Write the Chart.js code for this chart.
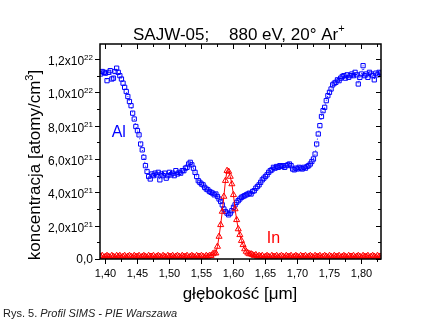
<!DOCTYPE html>
<html>
<head>
<meta charset="utf-8">
<script src="https://cdn.jsdelivr.net/npm/chart.js@4.4.1/dist/chart.umd.min.js"></script>
<style>
  html, body { margin: 0; padding: 0; background: #fff; }
  #wrap { width: 421px; height: 325px; }
</style>
</head>
<body>
<div id="wrap"><canvas id="chart" width="421" height="325"></canvas></div>
<script>
// głębokość [µm], krok 0.0025
const depth = [
  1.3925, 1.395, 1.3975, 1.400, 1.4025, 1.405, 1.4075, 1.410,
  1.4125, 1.415, 1.4175, 1.420, 1.4225, 1.425, 1.4275, 1.430,
  1.4325, 1.435, 1.4375, 1.440, 1.4425, 1.445, 1.4475, 1.450,
  1.4525, 1.455, 1.4575, 1.460, 1.4625, 1.465, 1.4675, 1.470,
  1.4725, 1.475, 1.4775, 1.480, 1.4825, 1.485, 1.4875, 1.490,
  1.4925, 1.495, 1.4975, 1.500, 1.5025, 1.505, 1.5075, 1.510,
  1.5125, 1.515, 1.5175, 1.520, 1.5225, 1.525, 1.5275, 1.530,
  1.5325, 1.535, 1.5375, 1.540, 1.5425, 1.545, 1.5475, 1.550,
  1.5525, 1.555, 1.5575, 1.560, 1.5625, 1.565, 1.5675, 1.570,
  1.5725, 1.575, 1.5775, 1.580, 1.5825, 1.585, 1.5875, 1.590,
  1.5925, 1.595, 1.5975, 1.600, 1.6025, 1.605, 1.6075, 1.610,
  1.6125, 1.615, 1.6175, 1.620, 1.6225, 1.625, 1.6275, 1.630,
  1.6325, 1.635, 1.6375, 1.640, 1.6425, 1.645, 1.6475, 1.650,
  1.6525, 1.655, 1.6575, 1.660, 1.6625, 1.665, 1.6675, 1.670,
  1.6725, 1.675, 1.6775, 1.680, 1.6825, 1.685, 1.6875, 1.690,
  1.6925, 1.695, 1.6975, 1.700, 1.7025, 1.705, 1.7075, 1.710,
  1.7125, 1.715, 1.7175, 1.720, 1.7225, 1.725, 1.7275, 1.730,
  1.7325, 1.735, 1.7375, 1.740, 1.7425, 1.745, 1.7475, 1.750,
  1.7525, 1.755, 1.7575, 1.760, 1.7625, 1.765, 1.7675, 1.770,
  1.7725, 1.775, 1.7775, 1.780, 1.7825, 1.785, 1.7875, 1.790,
  1.7925, 1.795, 1.7975, 1.800, 1.8025, 1.805, 1.8075, 1.810,
  1.8125, 1.815, 1.8175, 1.820, 1.8225, 1.825, 1.8275, 1.830
];

// Al, x10^21 atomów/cm3
const alConc = [
  11.1, 11.25, 11.2, 11.15, 10.7, 11.2, 11.3, 10.8,
  10.85, 11.25, 11.45, 11.2, 11.0, 10.8, 10.55, 10.3,
  10.05, 9.75, 9.45, 9.2, 8.75, 8.4, 7.95, 7.7,
  7.45, 6.9, 6.55, 6.1, 5.6, 5.25, 4.95, 4.8,
  5.1, 5.0, 5.15, 5.05, 5.2, 4.75, 5.1, 5.0,
  5.15, 4.85, 5.0, 5.2, 5.05, 5.15, 5.0, 5.3,
  5.1, 5.2, 5.15, 5.3, 5.3, 5.45, 5.5, 5.7,
  5.8, 5.65, 5.45, 5.2, 4.95, 4.7, 4.6, 4.5,
  4.45, 4.3, 4.2, 4.15, 4.05, 4.0, 3.95, 3.85,
  3.9, 3.75, 3.6, 3.45, 3.25, 3.0, 2.85, 2.75,
  2.65, 2.75, 2.9, 3.1, 3.25, 3.4, 3.5, 3.6,
  3.7, 3.75, 3.8, 3.85, 3.9, 3.95, 3.9, 4.05,
  4.1, 4.25, 4.35, 4.45, 4.6, 4.75, 4.85, 4.95,
  5.05, 5.2, 5.3, 5.35, 5.5, 5.45, 5.55, 5.5,
  5.6, 5.55, 5.6, 5.5, 5.6, 5.65, 5.7, 5.6,
  5.4, 5.35, 5.45, 5.4, 5.5, 5.45, 5.4, 5.5,
  5.45, 5.55, 5.6, 5.7, 5.85, 6.0, 6.3, 6.9,
  7.5, 8.0, 8.55, 8.9, 9.1, 9.5, 9.8, 10.0,
  10.2, 10.45, 10.55, 10.6, 10.75, 10.7, 10.85, 10.95,
  11.0, 10.85, 11.05, 10.9, 11.0, 11.1, 11.0, 11.2,
  11.05, 10.5, 10.9, 11.1, 11.6, 11.0, 11.1, 10.9,
  11.2, 11.1, 11.0, 10.75, 11.15, 11.05, 11.2, 11.15
];

// In, x10^21 atomów/cm3
const inConc = [
  0.15, 0.2, 0.1, 0.15, 0.2, 0.15, 0.1, 0.2,
  0.15, 0.1, 0.2, 0.15, 0.2, 0.1, 0.15, 0.2,
  0.1, 0.15, 0.2, 0.15, 0.1, 0.2, 0.15, 0.15,
  0.2, 0.1, 0.15, 0.2, 0.15, 0.1, 0.2, 0.15,
  0.15, 0.2, 0.1, 0.15, 0.2, 0.15, 0.1, 0.2,
  0.15, 0.1, 0.2, 0.15, 0.15, 0.2, 0.1, 0.15,
  0.2, 0.15, 0.1, 0.2, 0.15, 0.15, 0.2, 0.1,
  0.15, 0.2, 0.15, 0.1, 0.2, 0.15, 0.15, 0.2,
  0.15, 0.1, 0.2, 0.15, 0.2, 0.2, 0.3, 0.35,
  0.35, 0.75, 1.35, 2.05, 2.85, 3.75, 4.7, 5.3,
  5.25, 4.95, 4.5, 3.85, 3.0, 2.35, 1.8, 1.45,
  1.1, 0.85, 0.6, 0.45, 0.35, 0.3, 0.3, 0.25,
  0.2, 0.25, 0.15, 0.2, 0.15, 0.2, 0.1, 0.15,
  0.2, 0.15, 0.1, 0.2, 0.15, 0.15, 0.2, 0.1,
  0.15, 0.2, 0.15, 0.1, 0.2, 0.15, 0.15, 0.2,
  0.1, 0.15, 0.2, 0.15, 0.1, 0.2, 0.15, 0.15,
  0.2, 0.1, 0.15, 0.2, 0.15, 0.1, 0.2, 0.15,
  0.15, 0.2, 0.1, 0.15, 0.2, 0.15, 0.1, 0.2,
  0.15, 0.1, 0.2, 0.15, 0.15, 0.2, 0.1, 0.15,
  0.2, 0.15, 0.1, 0.2, 0.15, 0.15, 0.2, 0.1,
  0.15, 0.2, 0.15, 0.1, 0.2, 0.15, 0.15, 0.2,
  0.1, 0.15, 0.2, 0.15, 0.1, 0.2, 0.15, 0.15
];

const xTicks = [1.40, 1.45, 1.50, 1.55, 1.60, 1.65, 1.70, 1.75, 1.80];
const xTickLabels = ['1,40', '1,45', '1,50', '1,55', '1,60', '1,65', '1,70', '1,75', '1,80'];
const yTicks = [0, 2, 4, 6, 8, 10, 12];
const yTickLabels = ['0,0', '2,0x10', '4,0x10', '6,0x10', '8,0x10', '1,0x10', '1,2x10'];
const yTickExp = ['', '21', '21', '21', '21', '22', '22'];

const FONT = '"Liberation Sans", Arial, sans-serif';
const pts = (ys) => depth.map((d, i) => ({ x: d, y: ys[i] }));

// rama, podziałki i napisy rysowane po wykresie
const frame = {
  id: 'frame',
  afterDraw(chart) {
    const { ctx, chartArea: a, scales: { x, y } } = chart;
    ctx.save();
    ctx.strokeStyle = '#000';
    ctx.lineWidth = 1.5;
    ctx.strokeRect(a.left, a.top, a.right - a.left, a.bottom - a.top);

    ctx.lineWidth = 1;
    ctx.beginPath();
    // oś X: duże co 0.05, małe w połowie
    xTicks.forEach((v, i) => {
      const px = Math.round(x.getPixelForValue(v)) + 0.5;
      ctx.moveTo(px, a.bottom); ctx.lineTo(px, a.bottom + 5);
      ctx.moveTo(px, a.top); ctx.lineTo(px, a.top + 5);
      const mid = v + 0.025;
      if (mid < x.max) {
        const pm = Math.round(x.getPixelForValue(mid)) + 0.5;
        ctx.moveTo(pm, a.bottom); ctx.lineTo(pm, a.bottom + 3);
        ctx.moveTo(pm, a.top); ctx.lineTo(pm, a.top + 3);
      }
    });
    // oś Y
    yTicks.forEach((v) => {
      const py = Math.round(y.getPixelForValue(v)) + 0.5;
      ctx.moveTo(a.left, py); ctx.lineTo(a.left - 5, py);
      ctx.moveTo(a.right, py); ctx.lineTo(a.right - 5, py);
      const mid = v + 1;
      if (mid < y.max) {
        const pm = Math.round(y.getPixelForValue(mid)) + 0.5;
        ctx.moveTo(a.left, pm); ctx.lineTo(a.left - 3, pm);
        ctx.moveTo(a.right, pm); ctx.lineTo(a.right - 3, pm);
      }
    });
    ctx.stroke();

    ctx.fillStyle = '#000';
    ctx.font = '11px ' + FONT;
    ctx.textAlign = 'center';
    ctx.textBaseline = 'alphabetic';
    xTicks.forEach((v, i) => {
      ctx.fillText(xTickLabels[i], x.getPixelForValue(v), a.bottom + 18);
    });

    // etykiety Y z wykładnikiem
    const right = a.left - 7;
    yTicks.forEach((v, i) => {
      const py = y.getPixelForValue(v);
      ctx.textAlign = 'left';
      if (!yTickExp[i]) {
        ctx.font = '12px ' + FONT;
        const w = ctx.measureText(yTickLabels[i]).width;
        ctx.fillText(yTickLabels[i], right - w, py + 4);
        return;
      }
      ctx.font = '8px ' + FONT;
      const we = ctx.measureText(yTickExp[i]).width;
      ctx.fillText(yTickExp[i], right - we, py + 1);
      ctx.font = '12px ' + FONT;
      const wm = ctx.measureText(yTickLabels[i]).width;
      ctx.fillText(yTickLabels[i], right - we - wm, py + 6);
    });

    // tytuł
    ctx.font = '17px ' + FONT;
    ctx.textAlign = 'left';
    ctx.fillText('SAJW-05;', 133, 40);
    const t2 = '880 eV, 20\u00b0 Ar';
    ctx.fillText(t2, 229, 40);
    const w2 = ctx.measureText(t2).width;
    ctx.font = '11px ' + FONT;
    ctx.fillText('+', 229 + w2, 32);

    // opis osi X
    ctx.font = '17px ' + FONT;
    ctx.textAlign = 'center';
    ctx.fillText('g\u0142\u0119boko\u015b\u0107 [\u03bcm]', 240, 299);

    // opis osi Y
    ctx.save();
    ctx.translate(40, 165);
    ctx.rotate(-Math.PI / 2);
    ctx.font = '17px ' + FONT;
    const s1 = 'koncentracja [atomy/cm';
    const w1 = ctx.measureText(s1).width;
    ctx.font = '11px ' + FONT;
    const w3 = ctx.measureText('3').width;
    ctx.font = '17px ' + FONT;
    const wb = ctx.measureText(']').width;
    const x0 = -(w1 + w3 + wb) / 2;
    ctx.textAlign = 'left';
    ctx.fillText(s1, x0, 0);
    ctx.font = '11px ' + FONT;
    ctx.fillText('3', x0 + w1, -7);
    ctx.font = '17px ' + FONT;
    ctx.fillText(']', x0 + w1 + w3, 0);
    ctx.restore();

    // podpisy serii
    ctx.font = '16px ' + FONT;
    ctx.textAlign = 'left';
    ctx.fillStyle = '#0000ff';
    ctx.fillText('Al', x.getPixelForValue(1.4097), y.getPixelForValue(7.3));
    ctx.fillStyle = '#ff0000';
    ctx.fillText('In', x.getPixelForValue(1.652), y.getPixelForValue(0.95));

    // podpis rysunku
    ctx.fillStyle = '#222';
    ctx.font = '11px ' + FONT;
    ctx.fillText('Rys. 5. ', 3, 317);
    const wr = ctx.measureText('Rys. 5. ').width;
    ctx.font = 'italic 11px ' + FONT;
    ctx.fillText('Profil SIMS - PIE Warszawa', 3 + wr, 317);
    ctx.restore();
  }
};

new Chart(document.getElementById('chart'), {
  type: 'scatter',
  data: {
    datasets: [
      {
        label: 'In',
        data: pts(inConc),
        showLine: true,
        borderColor: '#ff0000',
        borderWidth: 1,
        pointStyle: 'triangle',
        pointRadius: 3.5,
        pointBorderWidth: 1,
        pointBorderColor: '#ff0000',
        pointBackgroundColor: 'rgba(0,0,0,0)'
      },
      {
        label: 'Al',
        data: pts(alConc),
        showLine: true,
        borderColor: '#0000ff',
        borderWidth: 1,
        borderDash: [1, 3],
        pointStyle: 'rect',
        pointRadius: 3,
        pointBorderWidth: 1,
        pointBorderColor: '#0000ff',
        pointBackgroundColor: 'rgba(0,0,0,0)'
      }
    ]
  },
  options: {
    responsive: false,
    animation: false,
    devicePixelRatio: 1,
    layout: { padding: { left: 100, top: 44, right: 40, bottom: 66 } },
    plugins: { legend: { display: false }, tooltip: { enabled: false } },
    scales: {
      x: { type: 'linear', min: 1.3915, max: 1.8305, display: false },
      y: { type: 'linear', min: 0, max: 12.9, display: false }
    }
  },
  plugins: [frame]
});
</script>
</body>
</html>
